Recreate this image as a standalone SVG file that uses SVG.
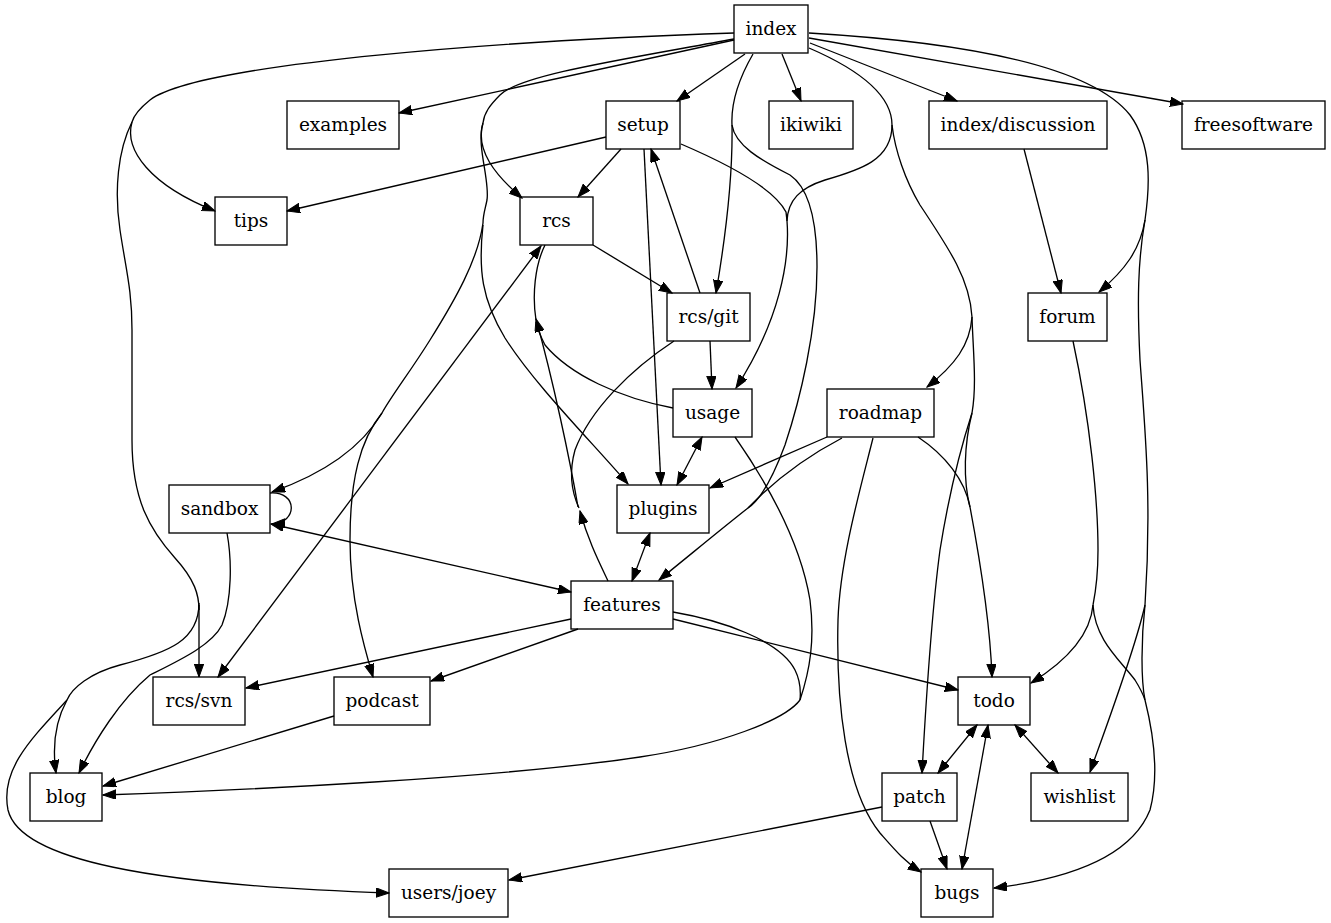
<svg xmlns="http://www.w3.org/2000/svg" width="1331" height="923" viewBox="0 0 1331 923">
<defs>
<style>
.n rect{fill:none;stroke:#000;stroke-width:1.33}
.n text{font-family:"DejaVu Serif","Liberation Serif",serif;font-size:18.5px;text-anchor:middle;fill:#000}
#edges path{fill:none;stroke:#000;stroke-width:1.33}
.a{marker-end:url(#ah)}
.b{marker-start:url(#ah);marker-end:url(#ah)}
</style>
<marker id="ah" markerUnits="userSpaceOnUse" markerWidth="14" markerHeight="10" refX="13" refY="4.7" orient="auto-start-reverse" viewBox="0 0 14 10">
<path d="M0,0 L13,4.7 L0,9.4 z" fill="#000" stroke="#000" stroke-width="1"/>
</marker>
</defs>
<rect width="1331" height="923" fill="#fff"/>
<g id="edges">
<!-- index left trunk -->
<path d="M734,33 C520,40 200,62 150,100 C140,108 134,115 132,122"/>
<path class="a" d="M132,122 C124,150 150,185 215,211"/>
<path d="M132,122 C118,150 114,190 120,230 C126,270 132,290 132,330 L132,440 C132,500 150,530 175,558 C195,580 199,595 199,610"/>
<path class="a" d="M199,605 L199,677"/>
<path d="M199,603 C199,640 170,652 120,665 C90,673 72,688 67,700"/>
<path class="a" d="M67,700 C56,720 52,745 56,773"/>
<path class="a" d="M67,700 C30,740 0,770 8,810 C20,860 150,885 389,893"/>
<!-- index straight -->
<path class="a" d="M734,40 L399,113"/>
<path class="a" d="M745,54 L677,101"/>
<path class="a" d="M782,54 L801,101"/>
<path class="a" d="M753,54 C738,80 731,105 732,125 C733,180 725,240 716,293"/>
<path class="a" d="M810,43 L957,101"/>
<path class="a" d="M809,38 L1183,104"/>
<!-- index -> rcs / plugins / sandbox / podcast -->
<path d="M734,39 C620,60 520,75 500,95 C490,105 484,113 483,123"/>
<path class="a" d="M483,123 C475,150 495,175 522,198"/>
<path d="M483,123 C476,145 490,180 487,200 C485,210 483,215 483,223"/>
<path d="M483,223 C478,260 455,300 430,340 C410,372 392,395 382,413"/>
<path class="a" d="M382,413 C360,450 320,475 272,492"/>
<path class="a" d="M382,413 C360,440 350,480 350,540 C350,600 365,650 373,677"/>
<path class="a" d="M483,225 C478,270 482,300 505,338 C535,385 590,440 628,484"/>
<!-- setup -->
<path class="a" d="M606,137 L287,211"/>
<path class="a" d="M621,149 L578,197"/>
<path class="a" d="M644,149 L661,485"/>
<path d="M681,144 C730,165 775,190 786,212 L787,221"/>
<path class="a" d="M787,221 C790,260 780,320 736,388"/>
<!-- index -> usage -->
<path d="M809,48 C860,70 892,95 892,125 C892,160 860,170 825,180 C800,188 788,200 787,221"/>
<!-- index -> roadmap / patch / todo -->
<path d="M892,125 C895,150 905,180 920,205 C950,250 970,280 972,317"/>
<path class="a" d="M972,317 C970,345 955,365 927,387"/>
<path d="M972,317 C973,350 977,385 972,413"/>
<path class="a" d="M972,413 C960,450 948,500 940,550 C932,610 926,700 922,773"/>
<path d="M972,413 C964,445 963,480 970,507"/>
<path d="M918,437 C945,455 965,480 970,507"/>
<path class="a" d="M970,507 C980,560 990,620 992,677"/>
<!-- index -> features -->
<path d="M732,125 C735,145 760,160 790,175 C812,190 817,230 817,267 C817,330 800,400 785,445 C772,480 760,500 748,508"/>
<path d="M842,438 C800,460 770,485 748,508"/>
<path class="a" d="M748,508 C720,530 690,555 659,580"/>
<!-- roadmap -->
<path class="a" d="M827,437 L710,488"/>
<path class="a" d="M873,438 C860,490 840,560 838,620 C836,700 845,790 880,833 C895,850 905,862 921,872"/>
<!-- index -> forum / wishlist / bugs -->
<path d="M809,33 C960,42 1090,65 1130,115 C1152,145 1150,185 1145,220"/>
<path class="a" d="M1145,220 C1140,250 1125,270 1099,292"/>
<path d="M1145,220 C1138,260 1137,300 1140,360 C1145,430 1152,500 1145,605"/>
<path class="a" d="M1145,605 C1135,650 1105,730 1090,772"/>
<path d="M1145,605 C1141,640 1141,680 1145,700"/>
<path class="a" d="M1145,700 C1155,740 1158,780 1150,810 C1130,860 1060,880 994,888"/>
<!-- forum -->
<path d="M1073,341 C1090,420 1098,500 1098,550 C1098,580 1095,595 1093,605"/>
<path class="a" d="M1093,605 C1090,640 1060,665 1031,683"/>
<path d="M1093,605 C1095,640 1120,660 1135,680 C1140,688 1143,694 1145,700"/>
<path class="a" d="M1024,149 L1061,293"/>
<!-- rcs / rcs-git -->
<path class="a" d="M593,245 L672,293"/>
<path class="b" d="M541,246 L218,677"/>
<path class="a" d="M700,293 L651,149"/>
<path class="a" d="M710,341 L712,389"/>
<path d="M674,341 C630,370 590,410 575,450 C568,475 573,495 579,508"/>
<path class="a" d="M608,581 C598,560 588,540 580,511"/>
<path class="a" d="M578,507 C570,460 553,380 536,319"/>
<path d="M536,320 C532,295 535,265 545,245"/>
<path d="M673,408 C620,398 570,375 545,345 C540,335 537,328 536,322"/>
<!-- usage / features -> blog -->
<path class="b" d="M702,437 L677,485"/>
<path d="M735,437 C765,480 800,540 810,600 C815,640 810,670 800,700"/>
<path d="M673,612 C720,620 780,640 795,670 C800,680 801,690 800,700"/>
<path class="a" d="M800,700 C785,720 720,745 640,757 C500,778 250,790 103,795"/>
<!-- features -->
<path class="a" d="M571,619 L246,688"/>
<path class="a" d="M578,629 L431,681"/>
<path class="a" d="M673,619 L958,690"/>
<path class="b" d="M650,533 L632,581"/>
<path class="b" d="M271,524 L571,592"/>
<!-- sandbox -->
<path class="a" d="M270,493 C298,491 298,523 272,524"/>
<path class="a" d="M227,533 C232,560 232,600 222,625 C212,645 180,660 150,675 C120,700 95,740 79,773"/>
<path class="a" d="M334,716 L103,786"/>
<!-- todo / patch -->
<path class="b" d="M977,725 L938,773"/>
<path class="b" d="M988,725 L962,869"/>
<path class="b" d="M1015,725 L1058,773"/>
<path class="a" d="M930,821 L947,869"/>
<path class="a" d="M882,807 L509,880"/>
</g>
<g id="index" class="n"><rect x="734" y="5" width="74" height="48"/><text x="771" y="35">index</text></g>
<g id="examples" class="n"><rect x="287" y="101" width="112" height="48"/><text x="343" y="131">examples</text></g>
<g id="setup" class="n"><rect x="606" y="101" width="74" height="48"/><text x="643" y="131">setup</text></g>
<g id="ikiwiki" class="n"><rect x="769" y="101" width="84" height="48"/><text x="811" y="131">ikiwiki</text></g>
<g id="index-discussion" class="n"><rect x="929" y="101" width="178" height="48"/><text x="1018" y="131">index/discussion</text></g>
<g id="freesoftware" class="n"><rect x="1182" y="101" width="143" height="48"/><text x="1253.5" y="131">freesoftware</text></g>
<g id="tips" class="n"><rect x="215" y="197" width="72" height="48"/><text x="251" y="227">tips</text></g>
<g id="rcs" class="n"><rect x="520" y="197" width="73" height="48"/><text x="556.5" y="227">rcs</text></g>
<g id="rcs-git" class="n"><rect x="667" y="293" width="83" height="48"/><text x="708.5" y="323">rcs/git</text></g>
<g id="forum" class="n"><rect x="1028" y="293" width="79" height="48"/><text x="1067.5" y="323">forum</text></g>
<g id="usage" class="n"><rect x="673" y="389" width="79" height="48"/><text x="712.5" y="419">usage</text></g>
<g id="roadmap" class="n"><rect x="827" y="389" width="107" height="48"/><text x="880.5" y="419">roadmap</text></g>
<g id="sandbox" class="n"><rect x="169" y="485" width="101" height="48"/><text x="219.5" y="515">sandbox</text></g>
<g id="plugins" class="n"><rect x="617" y="485" width="92" height="48"/><text x="663" y="515">plugins</text></g>
<g id="features" class="n"><rect x="571" y="581" width="102" height="48"/><text x="622" y="611">features</text></g>
<g id="rcs-svn" class="n"><rect x="153" y="677" width="92" height="48"/><text x="199" y="707">rcs/svn</text></g>
<g id="podcast" class="n"><rect x="334" y="677" width="96" height="48"/><text x="382" y="707">podcast</text></g>
<g id="todo" class="n"><rect x="958" y="677" width="72" height="48"/><text x="994" y="707">todo</text></g>
<g id="blog" class="n"><rect x="30" y="773" width="72" height="48"/><text x="66" y="803">blog</text></g>
<g id="patch" class="n"><rect x="882" y="773" width="75" height="48"/><text x="919.5" y="803">patch</text></g>
<g id="wishlist" class="n"><rect x="1031" y="773" width="97" height="48"/><text x="1079.5" y="803">wishlist</text></g>
<g id="users-joey" class="n"><rect x="389" y="869" width="119" height="48"/><text x="448.5" y="899">users/joey</text></g>
<g id="bugs" class="n"><rect x="921" y="869" width="72" height="48"/><text x="957" y="899">bugs</text></g>
</svg>
